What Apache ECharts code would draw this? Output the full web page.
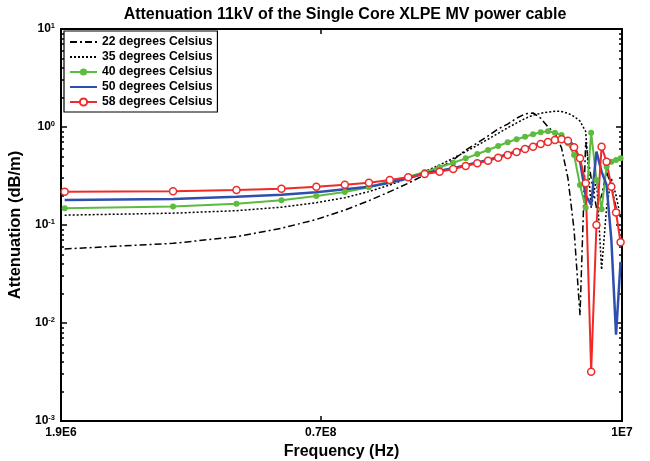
<!DOCTYPE html>
<html><head><meta charset="utf-8">
<script src="https://cdn.jsdelivr.net/npm/echarts@6/dist/echarts.min.js"></script>
<style>html,body{margin:0;padding:0;background:#fff}#c{width:650px;height:461px}</style>
</head><body><div id="c"></div>
<script>
// Frequency grid (MHz)
const freqMHz = [1.945, 3.89, 5.835, 7.78, 9.725, 11.67, 13.615, 15.56, 17.505, 19.45,
  21.395, 23.34, 25.285, 27.23, 29.175, 31.12, 33.065, 35.01, 36.955, 38.9,
  40.845, 42.79, 44.735, 46.68, 48.625, 50.57, 52.515, 54.46, 56.405, 58.35,
  60.295, 62.24, 64.185, 66.13, 68.075];

const att22 = [0.057, 0.065, 0.076, 0.0925, 0.114, 0.142, 0.177, 0.219, 0.267, 0.324,
  0.382, 0.461, 0.582, 0.687, 0.81, 0.954, 1.07, 1.23, 1.36, 1.39,
  1.23, 1.0, 0.87, 0.61, 0.30, 0.089, 0.012, 0.7, 0.3, 0.15,
  0.2, 0.35, 0.25, 0.15, 0.12];
const att35 = [0.126, 0.132, 0.140, 0.152, 0.169, 0.190, 0.219, 0.256, 0.300, 0.350,
  0.41, 0.48, 0.56, 0.65, 0.75, 0.86, 0.98, 1.1, 1.22, 1.32,
  1.38, 1.42, 1.45, 1.44, 1.38, 1.28, 1.15, 0.9, 0.15, 0.3,
  0.035, 0.15, 0.3, 0.2, 0.12];
const att40 = [0.148, 0.154, 0.165, 0.179, 0.198, 0.217, 0.243, 0.279, 0.311, 0.347,
  0.388, 0.432, 0.479, 0.530, 0.582, 0.640, 0.698, 0.749, 0.796, 0.842,
  0.883, 0.904, 0.875, 0.829, 0.682, 0.518, 0.256, 0.15, 0.875, 0.288,
  0.145, 0.394, 0.442, 0.46, 0.479];
const att50 = [0.180, 0.184, 0.194, 0.204, 0.216, 0.231, 0.246, 0.270, 0.300, 0.337,
  0.357, 0.380, 0.408, 0.435, 0.462, 0.496, 0.528, 0.567, 0.609, 0.643,
  0.684, 0.717, 0.752, 0.764, 0.74, 0.65, 0.45, 0.2, 0.16, 0.56,
  0.35, 0.256, 0.07, 0.0076, 0.042];
const att58 = [0.219, 0.221, 0.228, 0.235, 0.246, 0.258, 0.270, 0.288, 0.307, 0.331,
  0.350, 0.373, 0.400, 0.426, 0.453, 0.486, 0.518, 0.556, 0.597, 0.630,
  0.671, 0.703, 0.737, 0.749, 0.725, 0.621, 0.480, 0.267, 0.00318, 0.1,
  0.630, 0.442, 0.246, 0.134, 0.0666];

const seriesNames = ['22 degrees Celsius', '35 degrees Celsius', '40 degrees Celsius', '50 degrees Celsius', '58 degrees Celsius'];
const xTickValues = [1.9e6, 1e7, 6.87e7];
const xTickLabels = ['1.9E6', '0.7E8', '1E7'];
const yMajorTicks = [1e-3, 1e-2, 1e-1, 1, 10];
const yMinorTicks = [];
for (let e = -3; e < 1; e++) for (let k = 2; k <= 9; k++) yMinorTicks.push(k * Math.pow(10, e));

const pairs = arr => arr.map((v, i) => [freqMHz[i] * 1e6, v]);
const FONT = 'Liberation Sans, Arial, sans-serif';

const chart = echarts.init(document.getElementById('c'), null, {renderer: 'canvas'});

function xLab(v) {
  let best = 0, bd = Infinity;
  xTickValues.forEach((t, i) => { const d = Math.abs(Math.log10(v / t)); if (d < bd) { bd = d; best = i; } });
  return xTickLabels[best];
}
const yAxisBase = {
  type: 'log', min: 1e-3, max: 10, logBase: 10,
  axisLine: {show: true, onZero: false, lineStyle: {color: '#000', width: 2}},
  splitLine: {show: false}
};
const xAxisBase = {
  type: 'log', min: 1.9e6, max: 6.87e7, logBase: 10,
  axisLine: {show: true, onZero: false, lineStyle: {color: '#000', width: 2}},
  splitLine: {show: false}
};
const noSym = {itemStyle: {opacity: 0}};

chart.setOption({
  animation: false,
  backgroundColor: '#fff',
  title: {
    text: 'Attenuation 11kV of the Single Core XLPE MV power cable',
    left: 340, top: 2, textAlign: 'center',
    textStyle: {fontFamily: FONT, fontSize: 16, fontWeight: 'bold', color: '#000'}
  },
  grid: {left: 61, right: 28, top: 29, bottom: 40, containLabel: false, outerBoundsMode: 'none'},
  legend: {
    orient: 'vertical', left: 64, top: 31,
    padding: [4, 5, 3, 5], itemGap: 1, itemWidth: 27, itemHeight: 9,
    backgroundColor: '#fff', borderColor: '#000', borderWidth: 1.2,
    textStyle: {fontFamily: FONT, fontSize: 12.2, fontWeight: 'bold', color: '#000', lineHeight: 14},
    data: [
      Object.assign({name: seriesNames[0]}, noSym),
      Object.assign({name: seriesNames[1]}, noSym),
      {name: seriesNames[2]},
      Object.assign({name: seriesNames[3]}, noSym),
      {name: seriesNames[4]}
    ]
  },
  xAxis: [
    Object.assign({}, xAxisBase, {
      position: 'bottom',
      name: 'Frequency (Hz)', nameLocation: 'middle', nameGap: 18,
      nameTextStyle: {fontFamily: FONT, fontSize: 16, fontWeight: 'bold', color: '#000'},
      axisTick: {show: true, inside: true, length: 5, lineStyle: {color: '#000', width: 1.5}, customValues: xTickValues.slice(1, 2)},
      axisLabel: {show: true, customValues: xTickValues, showMinLabel: true, showMaxLabel: true, margin: 6,
        fontFamily: FONT, fontSize: 12, fontWeight: 'bold', color: '#000', formatter: xLab}
    }),
    Object.assign({}, xAxisBase, {
      position: 'top',
      axisTick: {show: true, inside: true, length: 5, lineStyle: {color: '#000', width: 1.5}, customValues: xTickValues.slice(1, 2)},
      axisLabel: {show: false}
    })
  ],
  yAxis: [
    Object.assign({}, yAxisBase, {
      position: 'left',
      name: 'Attenuation (dB/m)', nameLocation: 'middle', nameGap: 30,
      nameTextStyle: {fontFamily: FONT, fontSize: 16.5, fontWeight: 'bold', color: '#000'},
      axisTick: {show: true, inside: true, length: 6, lineStyle: {color: '#000', width: 1.5}, customValues: yMajorTicks},
      axisLabel: {show: true, customValues: yMajorTicks, margin: 6,
        formatter: v => '{b|10}{s|' + Math.round(Math.log10(v)) + '}',
        rich: {
          b: {fontFamily: FONT, fontSize: 12, fontWeight: 'bold', color: '#000'},
          s: {fontFamily: FONT, fontSize: 7.5, fontWeight: 'bold', color: '#000', padding: [0, 0, 7, 0]}
        }}
    }),
    Object.assign({}, yAxisBase, {
      position: 'left',
      axisTick: {show: true, inside: true, length: 3, lineStyle: {color: '#000', width: 1.5}, customValues: yMinorTicks},
      axisLabel: {show: false}
    }),
    Object.assign({}, yAxisBase, {
      position: 'right',
      axisTick: {show: true, inside: true, length: 6, lineStyle: {color: '#000', width: 1.5}, customValues: yMajorTicks},
      axisLabel: {show: false}
    }),
    Object.assign({}, yAxisBase, {
      position: 'right',
      axisTick: {show: true, inside: true, length: 3, lineStyle: {color: '#000', width: 1.5}, customValues: yMinorTicks},
      axisLabel: {show: false}
    })
  ],
  series: [
    {name: seriesNames[0], type: 'line', data: pairs(att22), showSymbol: false, symbol: 'none',
      lineStyle: {color: '#000', width: 1.5, type: [7, 3, 2, 3]}, itemStyle: {color: '#000'}},
    {name: seriesNames[1], type: 'line', data: pairs(att35), showSymbol: false, symbol: 'none',
      lineStyle: {color: '#000', width: 1.5, type: [2, 2]}, itemStyle: {color: '#000'}},
    {name: seriesNames[2], type: 'line', data: pairs(att40), symbol: 'circle', symbolSize: 6,
      lineStyle: {color: '#5dbb3f', width: 2}, itemStyle: {color: '#5dbb3f'}},
    {name: seriesNames[3], type: 'line', data: pairs(att50), showSymbol: false, symbol: 'none',
      lineStyle: {color: '#2e4fae', width: 2.5}, itemStyle: {color: '#2e4fae'}},
    {name: seriesNames[4], type: 'line', data: pairs(att58), symbol: 'circle', symbolSize: 7,
      lineStyle: {color: '#ee2a2a', width: 2}, itemStyle: {color: '#fff', borderColor: '#ee2a2a', borderWidth: 1.5}}
  ]
});
</script>
</body></html>
